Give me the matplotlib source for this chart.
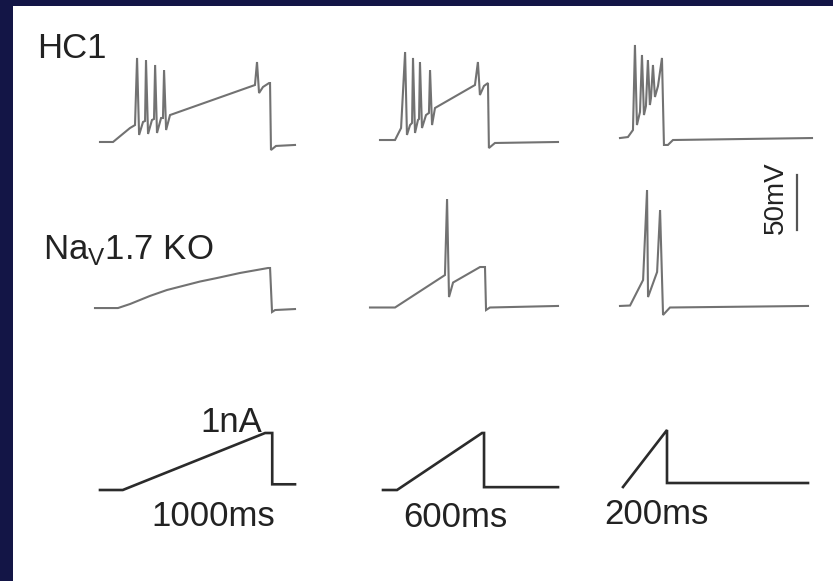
import matplotlib
matplotlib.use('Agg')
import matplotlib.pyplot as plt
from matplotlib.patches import Rectangle

plt.rcParams['font.family'] = ['Liberation Sans', 'DejaVu Sans']
plt.rcParams['mathtext.fontset'] = 'custom'
plt.rcParams['mathtext.rm'] = 'Liberation Sans'

W, H = 833, 581

# ramp stimulus durations (ms)
durations = ['1000ms', '600ms', '200ms']
row_labels = ['HC1', r'Na$_\mathregular{V}$1.7 KO']

# HC1 voltage responses, time (ms) / membrane potential (mV)
hc1_t_1000 = [-83, 0, 108, 140, 153, 166, 191, 204, 210, 223, 248, 261, 268, 280, 306, 318, 325, 338,
              363, 904, 917, 930, 955, 994, 1000, 1006, 1038, 1159]
hc1_v_1000 = [-65.9, -65.9, -53.2, -50.5, 10.5, -59.5, -47.7, -46.8, 8.6, -58.6, -45.9, -45.0, 4.1, -57.7,
              -44.1, -44.1, -0.5, -55.0, -41.4, -14.1, 6.8, -21.4, -15.9, -12.3, -12.3, -73.2, -69.5, -68.6]

hc1_t_600 = [-97, 0, 39, 65, 77, 97, 110, 116, 129, 148, 155, 161, 174, 200, 219, 226, 239,
             258, 516, 535, 548, 574, 600, 606, 645, 1052]
hc1_v_600 = [-64.1, -64.1, -53.2, 15.9, -59.5, -50.5, -48.6, 10.5, -57.7, -45.9, -45.0, 6.8, -53.2,
             -41.4, -39.5, -0.5, -50.5, -35.0, -14.1, 6.8, -23.2, -15.0, -12.3, -71.4, -66.8, -65.9]

hc1_t_200 = [-44, 0, 28, 39, 50, 67, 78, 89, 100, 111, 122, 128, 139, 150, 167, 189, 200, 222, 250, 1022]
hc1_v_200 = [-62.3, -61.4, -55.0, 22.3, -50.5, -38.6, 13.2, -41.4, -33.2, 8.6, -32.3, -25.9, 4.1, -25.0,
             -15.0, 10.5, -68.6, -68.6, -64.1, -62.3]

# Nav1.7 KO voltage responses
ko_t_1000 = [-151, 0, 80, 210, 322, 539, 651, 803, 987, 1000, 1013, 1033, 1164]
ko_v_1000 = [-65.5, -65.5, -61.8, -54.5, -49.1, -41.4, -38.2, -33.6, -29.1, -29.1, -69.1, -67.3, -66.4]

ko_t_600 = [-167, 0, 333, 347, 360, 387, 567, 600, 607, 633, 1087]
ko_v_600 = [-65.0, -65.0, -35.5, 33.6, -55.5, -42.3, -28.2, -28.2, -67.3, -65.0, -63.6]

ko_t_200 = [-61, 0, 79, 103, 109, 164, 182, 200, 242, 1079]
ko_v_200 = [-63.6, -63.2, -40.0, 41.8, -55.5, -32.7, 23.6, -71.8, -65.0, -63.6]

# injected current ramps, time (ms) / current (nA)
stim_t_1000 = [-160, 0, 1000, 1050, 1050, 1210]
stim_i_1000 = [0, 0, 1.0, 1.0, 0.1, 0.1]
stim_t_600 = [-99, 0, 600, 614, 614, 1136]
stim_i_600 = [0, 0, 1.0, 1.0, 0.05, 0.05]
stim_t_200 = [0, 200, 200, 841]
stim_i_200 = [0, 1.0, 0.07, 0.07]

scale_mv = 50


fig = plt.figure(figsize=(W / 100, H / 100), dpi=100)
fig.patch.set_facecolor('#131546')
fig.patches.append(Rectangle((13 / W, 0), 1 - 13 / W, 1 - 6 / H, transform=fig.transFigure,
                             facecolor='white', edgecolor='none', zorder=-10))


def panel(x0, x1, yref, ref, ylim, ppu):
    top = yref - (ylim[1] - ref) * ppu
    bot = yref + (ref - ylim[0]) * ppu
    ax = fig.add_axes([x0 / W, 1 - bot / H, (x1 - x0) / W, (bot - top) / H])
    ax.set_ylim(ylim)
    ax.axis('off')
    ax.patch.set_alpha(0)
    return ax


vlim = (-95, 50)
rows = [
    (141, [(hc1_t_1000, hc1_v_1000, 100, 295), (hc1_t_600, hc1_v_600, 380, 558),
           (hc1_t_200, hc1_v_200, 620, 812)]),
    (307.5, [(ko_t_1000, ko_v_1000, 95, 295), (ko_t_600, ko_v_600, 370, 558),
             (ko_t_200, ko_v_200, 620, 808)]),
]
for yref, traces in rows:
    for t, v, x0, x1 in traces:
        ax = panel(x0, x1, yref, -65, vlim, 1.1)
        ax.plot(t, v, color='#727272', lw=1.5, solid_joinstyle='miter', clip_on=False)
        ax.set_xlim(t[0], t[-1])

stims = [(stim_t_1000, stim_i_1000, 100, 295, 490), (stim_t_600, stim_i_600, 383, 558, 490),
         (stim_t_200, stim_i_200, 623, 808, 487)]
for t, i, x0, x1, yref in stims:
    ax = panel(x0, x1, yref, 0, (-0.2, 1.4), 57)
    ax.plot(t, i, color='#2b2b2b', lw=1.9, solid_joinstyle='miter', clip_on=False)
    ax.set_xlim(t[0], t[-1])

# 50 mV scale bar
ax = panel(792, 802, 230, -65, vlim, 1.1)
ax.plot([0, 0], [-65, -65 + scale_mv], color='#555555', lw=1.6, clip_on=False)
ax.set_xlim(-1, 1)
fig.text(776 / W, 1 - 198 / H, f'{scale_mv}mV', rotation=90, ha='center', va='center',
         fontsize=20, color='#222222')

fig.text(37 / W, 1 - 58 / H, row_labels[0], ha='left', va='baseline', fontsize=25, color='#222222')
fig.text(43 / W, 1 - 259 / H, row_labels[1], ha='left', va='baseline', fontsize=25, color='#222222')
fig.text(231 / W, 1 - 432 / H, '1nA', ha='center', va='baseline', fontsize=25, color='#222222')
for lab, xc, yb in zip(durations, [213, 455, 656], [526, 527, 524]):
    fig.text(xc / W, 1 - yb / H, lab, ha='center', va='baseline', fontsize=25, color='#222222')

fig.savefig('out.png', dpi=100, facecolor=fig.get_facecolor())
